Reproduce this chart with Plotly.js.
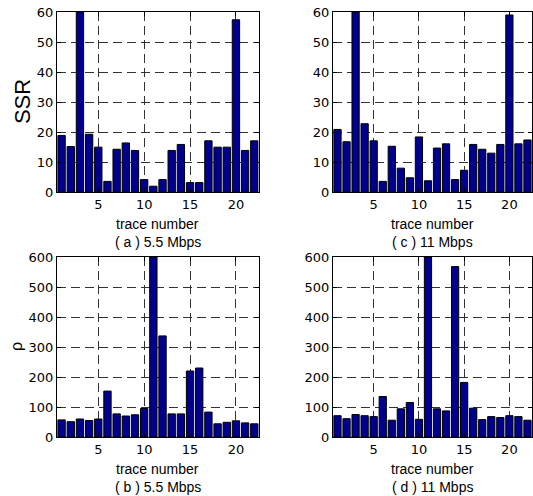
<!DOCTYPE html>
<html>
<head>
<meta charset="utf-8">
<script src="https://cdn.plot.ly/plotly-3.0.1.min.js"></script>
<style>html,body{margin:0;padding:0;background:#fff;}#chart{width:533px;height:496px;}</style>
</head>
<body>
<div id="chart"></div>
<script>
const traceNumbers = [1,2,3,4,5,6,7,8,9,10,11,12,13,14,15,16,17,18,19,20,21,22];
const ssr55 = [18.9,15.2,60,19.3,15,3.6,14.3,16.4,13.9,4.2,2,4.2,13.9,15.9,3.2,3.2,17.1,15,15,57.4,13.9,17.1];
const ssr11 = [20.9,16.8,60,22.8,17.1,3.6,15.3,8,4.8,18.4,3.8,14.7,16.1,4.2,7.3,15.9,14.3,13,15.9,59,16.1,17.4];
const rho55 = [57,51,60,55,60,153,77,70,74,95,600,337,77,77,220,230,83,44,49,54,47,44];
const rho11 = [71,61,75,71,68,135,56,94,115,59,600,94,87,568,182,96,58,68,65,71,68,56];
const xTicks = [5,10,15,20];
const ssrTicks = [0,10,20,30,40,50,60];
const rhoTicks = [0,100,200,300,400,500,600];
const captions = ['( a ) 5.5 Mbps','( c ) 11 Mbps','( b ) 5.5 Mbps','( d ) 11 Mbps'];
const xLabel = 'trace number';

const barColor = '#00008C';
const tickFont = {family: 'DejaVu Sans, sans-serif', size: 13, color: '#000'};
const labelFont = {family: 'Liberation Sans, Arial, sans-serif', size: 14, color: '#000'};

function bar(y, xa, ya) {
  return {type: 'bar', x: traceNumbers, y: y, xaxis: xa, yaxis: ya,
    marker: {color: barColor, line: {color: '#000', width: 1}}, hoverinfo: 'x+y'};
}
const data = [bar(ssr55,'x','y'), bar(ssr11,'x2','y2'), bar(rho55,'x3','y3'), bar(rho11,'x4','y4')];

function common() {
  return {showgrid: true, gridcolor: '#333', griddash: '9px,5px', gridwidth: 1,
    showline: true, mirror: 'ticks', linecolor: '#000', linewidth: 1,
    ticks: 'inside', ticklen: 4, tickcolor: '#000', zeroline: false, tickfont: tickFont, fixedrange: true};
}
function xax(domain, anchor) {
  return Object.assign(common(), {domain: domain, anchor: anchor, range: [0.5,22.5],
    tickvals: xTicks, ticktext: xTicks.map(String)});
}
function yax(domain, anchor, range, ticks) {
  return Object.assign(common(), {domain: domain, anchor: anchor, range: range,
    tickvals: ticks, ticktext: ticks.map(String)});
}
const xd1 = [0, 0.425], xd2 = [0.581, 1];
const ydTop = [0.576, 1], ydBot = [0, 0.4235];

const annotations = [];
const axPairs = [['x','y'],['x2','y2'],['x3','y3'],['x4','y4']];
axPairs.forEach((p, i) => {
  annotations.push({xref: p[0] + ' domain', yref: p[1] + ' domain', x: 0.5, y: 0, xanchor: 'center', yanchor: 'middle',
    yshift: -32, text: xLabel, showarrow: false, font: labelFont});
  annotations.push({xref: p[0] + ' domain', yref: p[1] + ' domain', x: 0.5, y: 0, xanchor: 'center', yanchor: 'middle',
    yshift: -50, text: captions[i], showarrow: false, font: labelFont});
});
annotations.push({xref: 'paper', yref: 'y domain', x: 0, y: 0.5, xanchor: 'center', yanchor: 'middle', xshift: -35,
  text: 'SSR', textangle: -90, showarrow: false, font: {family: labelFont.family, size: 22, color: '#000'}});
annotations.push({xref: 'paper', yref: 'y3 domain', x: 0, y: 0.5, xanchor: 'center', yanchor: 'middle', xshift: -41,
  text: 'ρ', textangle: -90, showarrow: false, font: {family: labelFont.family, size: 16, color: '#000'}});

const layout = {
  width: 533, height: 496,
  margin: {l: 57, r: 1, t: 12, b: 59, pad: 0},
  paper_bgcolor: '#fff', plot_bgcolor: '#fff',
  showlegend: false, bargap: 0.2, font: tickFont,
  xaxis: xax(xd1, 'y'), yaxis: yax(ydTop, 'x', [0,60], ssrTicks),
  xaxis2: xax(xd2, 'y2'), yaxis2: yax(ydTop, 'x2', [0,60], ssrTicks),
  xaxis3: xax(xd1, 'y3'), yaxis3: yax(ydBot, 'x3', [0,600], rhoTicks),
  xaxis4: xax(xd2, 'y4'), yaxis4: yax(ydBot, 'x4', [0,600], rhoTicks),
  annotations: annotations
};
Plotly.newPlot('chart', data, layout, {displayModeBar: false, staticPlot: true});
</script>
</body>
</html>
